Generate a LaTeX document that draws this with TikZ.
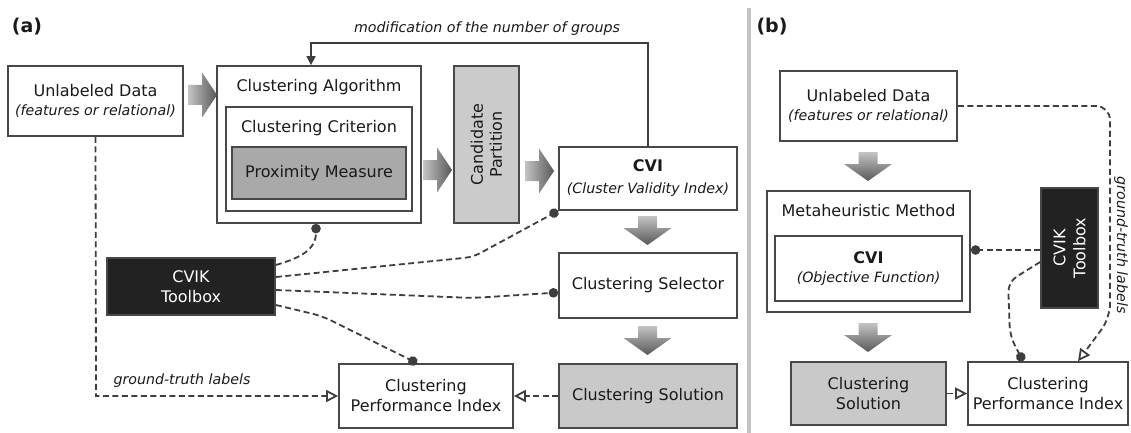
\documentclass[tikz,border=0pt]{standalone}
\usepackage{fontspec}
\setmainfont{DejaVu Sans}
\usetikzlibrary{arrows.meta}
\definecolor{bordercol}{HTML}{484848}
\definecolor{linecol}{HTML}{3E3E3E}
\definecolor{txt}{HTML}{1A1A1A}
\definecolor{pmfill}{HTML}{A9A9A9}
\definecolor{cpfill}{HTML}{CBCBCB}
\definecolor{solfill}{HTML}{C9C9C9}
\definecolor{tbfill}{HTML}{222222}
\definecolor{arrL}{HTML}{C4C4C4}
\definecolor{arrD}{HTML}{585858}
\definecolor{sepcol}{HTML}{C3C3C3}
\newcommand\mainsz{\fontsize{16}{19}\selectfont}
\newcommand\subsz{\fontsize{14.2}{19}\selectfont\itshape}
\newcommand\panelsz{\fontsize{19}{20}\selectfont\bfseries}
\begin{document}
\begin{tikzpicture}[x=1pt,y=-1pt,
  box/.style={draw=bordercol, line width=1.7pt, fill=white, inner sep=0pt,
    align=center, text=txt, font=\mainsz},
  title/.style={inner sep=0pt, text=txt, font=\mainsz},
  panel/.style={inner sep=0pt, text=txt, font=\panelsz},
  note/.style={inner sep=0pt, text=txt, font=\subsz},
  dl/.style={draw=linecol, line width=1.8pt, dash pattern=on 6pt off 3.5pt},
  dotend/.style={dl, -{Circle[length=9.5pt]}, linecol},
  openend/.style={dl, -{Triangle[open, length=12pt, width=12pt, fill=white]}},
  feedback/.style={draw=linecol, line width=1.6pt, -{Triangle[length=9pt, width=9pt]}},
  harr/.pic={\shade[left color=arrL, right color=arrD]
    (0,-10) -- (14,-10) -- (14,-22.5) -- (29,0) -- (14,22.5) -- (14,10) -- (0,10) -- cycle;},
  darr/.pic={\shade[top color=arrL, bottom color=arrD]
    (-9.5,0) -- (9.5,0) -- (9.5,12) -- (24,12) -- (0,29) -- (-24,12) -- (-9.5,12) -- cycle;}
]
\useasboundingbox (0,0) rectangle (1131,433);

% ---------------- panel (a) ----------------
\node[panel] (pa) at (27,27) {(a)};

\node[box, minimum width=175pt, minimum height=70pt] (uda) at (95.5,101)
  {Unlabeled Data\\{\subsz (features or relational)}};

\node[box, minimum width=204pt, minimum height=157pt] (ca) at (319,144.5) {};
\node[title] (catitle) at (319,87) {Clustering Algorithm};
\node[box, minimum width=186pt, minimum height=104pt] (cc) at (319,159) {};
\node[title] (cctitle) at (319,128) {Clustering Criterion};
\node[box, fill=pmfill, minimum width=174pt, minimum height=52pt] (pm) at (319,173)
  {Proximity Measure};

\node[box, fill=cpfill, rotate=90, minimum width=157pt, minimum height=65pt] (cp)
  at (486.5,144.5) {Candidate\\Partition};

\node[box, minimum width=178pt, minimum height=63pt] (cvia) at (648,178.5)
  {\textbf{CVI}\\[3pt]{\subsz (Cluster Validity Index)}};
\node[box, minimum width=178pt, minimum height=65pt] (sel) at (648,285.5)
  {Clustering Selector};
\node[box, fill=solfill, minimum width=178pt, minimum height=64pt] (sola) at (648,396)
  {Clustering Solution};
\node[box, minimum width=174pt, minimum height=64pt] (cpia) at (426,396)
  {Clustering\\[1pt]Performance Index};
\node[box, fill=tbfill, text=white, minimum width=168pt, minimum height=57pt] (tba)
  at (191,286.5) {CVIK\\[1pt]Toolbox};

% block arrows
\pic at (188,95) {harr};
\pic at (423,170) {harr};
\pic at (525,171) {harr};
\pic at (647.5,216) {darr};
\pic at (647.5,326) {darr};

% feedback loop
\coordinate (fbr) at (648,43);
\coordinate (fbl) at (311,43);
\draw[feedback] (cvia.north) -- (fbr) -- (fbl) -- (fbl |- ca.north);
\node[note] (fblabel) at (487,29) {modification of the number of groups};

% ground-truth path
\coordinate (gta) at (96,396);
\draw[openend] (uda.south) -- (gta) -- (cpia.west);
\node[note] (gtlabel) at (182,381) {ground-truth labels};
\draw[openend] (sola.west) -- (cpia.east);

% toolbox links
\draw[dotend] ([yshift=21.5pt]tba.east) .. controls (300,258) and (316,250) .. ([xshift=-3pt]ca.south);
\draw[dotend, rounded corners=8pt] ([yshift=9.5pt]tba.east) -- (473,257) -- (cvia.south west);
\draw[dotend, rounded corners=10pt] ([yshift=-3.5pt]tba.east) -- (473,298) -- ([yshift=-7pt]sel.west);
\draw[dotend, rounded corners=10pt] ([yshift=-18.5pt]tba.east) -- (322,316) -- ([xshift=-9pt]cpia.north);

% separator
\draw[sepcol, line width=4pt] (749,8) -- (749,433);

% ---------------- panel (b) ----------------
\node[panel] (pb) at (772,27) {(b)};

\node[box, minimum width=177pt, minimum height=70pt] (udb) at (868.5,106)
  {Unlabeled Data\\{\subsz (features or relational)}};
\node[box, minimum width=203pt, minimum height=121pt] (mm) at (868.5,251.5) {};
\node[title] (mmtitle) at (868.5,211) {Metaheuristic Method};
\node[box, minimum width=187pt, minimum height=65pt] (cvib) at (868.5,268.5)
  {\textbf{CVI}\\{\subsz (Objective Function)}};
\node[box, fill=solfill, minimum width=155pt, minimum height=63pt] (solb) at (868.5,393.5)
  {Clustering\\[1pt]Solution};
\node[box, minimum width=160pt, minimum height=63pt] (cpib) at (1048,393.5)
  {Clustering\\[1pt]Performance Index};
% rotated box: its north anchor lies on the left side
\node[box, fill=tbfill, text=white, rotate=90, minimum width=120pt, minimum height=57pt]
  (tbb) at (1069.5,248) {CVIK\\[1pt]Toolbox};

\pic at (868,152) {darr};
\pic at (868,323) {darr};

\draw[openend] (solb.east) -- (cpib.west);
\coordinate (tbl) at ([yshift=-2pt]tbb.north);
\draw[dotend] (tbl) -- (tbl -| mm.east);
\draw[dotend, rounded corners=10pt] ([yshift=-14pt]tbb.north) -- (1008,282) -- (1010,336)
  -- ([xshift=-25pt]cpib.north);
\coordinate (gtc1) at (1110,106);
\coordinate (gtc2) at (1110,318);
\draw[openend, rounded corners=14pt] (udb.east) -- (gtc1) -- (gtc2) -- ([xshift=30pt]cpib.north);
\node[note, rotate=-90] (gtlabelb) at (1121,245) {ground-truth labels};

\end{tikzpicture}
\end{document}
